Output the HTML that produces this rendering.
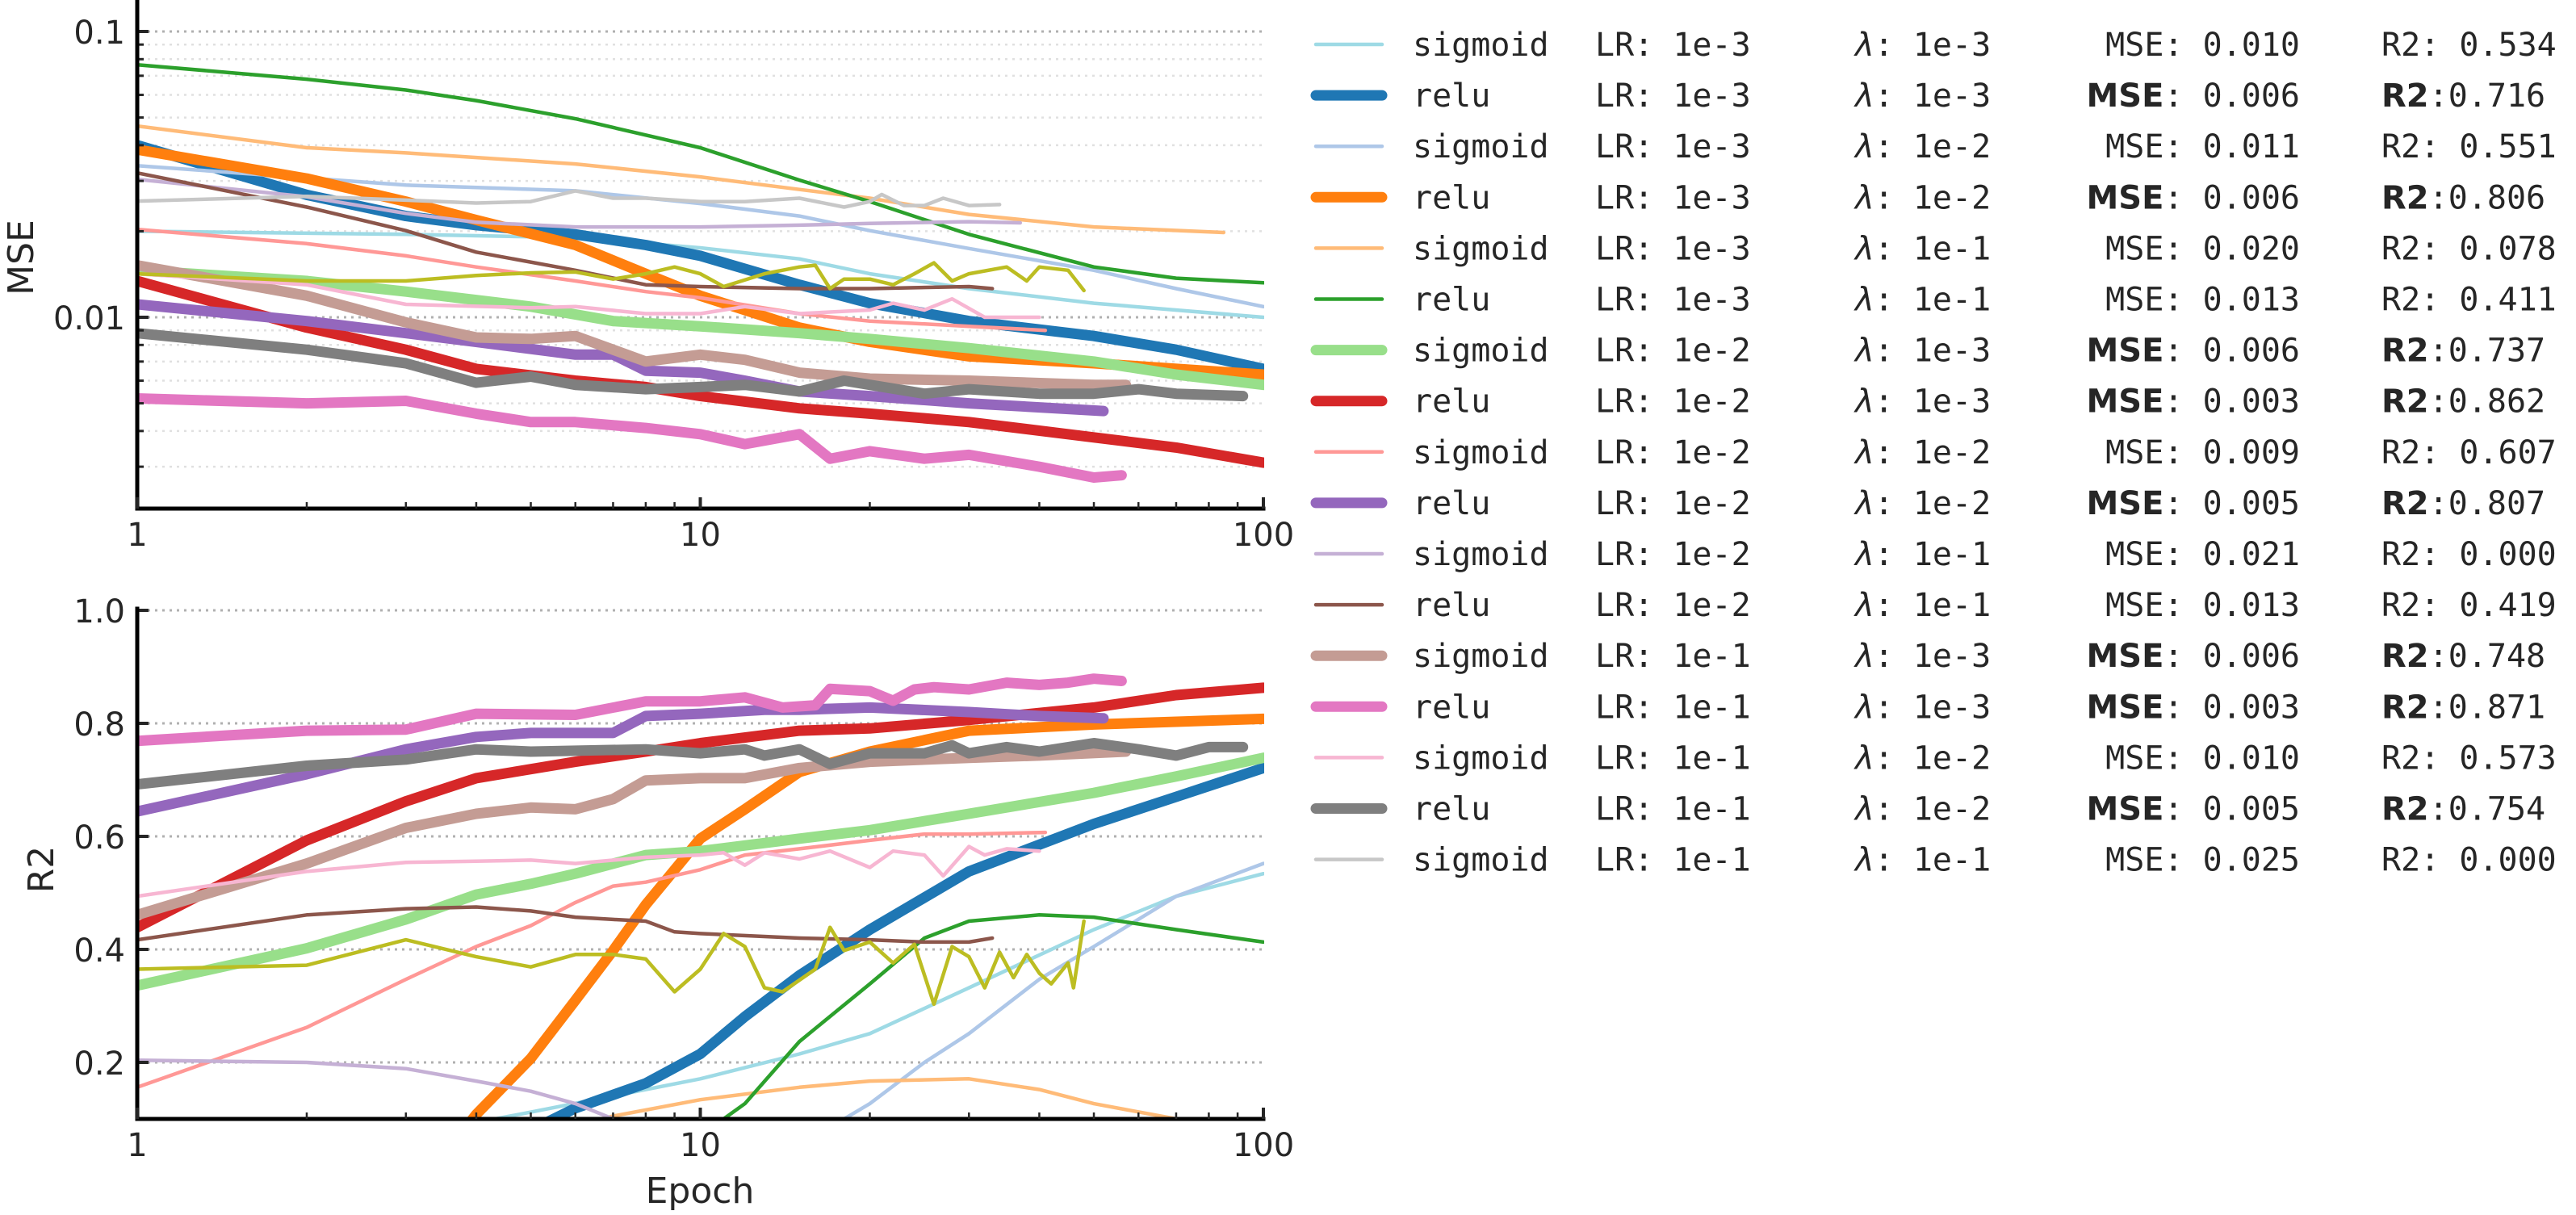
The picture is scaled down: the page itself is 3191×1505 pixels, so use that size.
<!DOCTYPE html>
<html><head><meta charset="utf-8">
<style>
html,body{margin:0;padding:0;background:#fff;width:3191px;height:1505px;overflow:hidden;}
svg{display:block;vertical-align:top;overflow:hidden;}
text{fill:#262626;}
</style></head>
<body>
<svg id="chart" xmlns="http://www.w3.org/2000/svg" width="3191" height="1505" viewBox="0 0 3191 1505">
<defs>
<clipPath id="clipTop"><rect x="170" y="0" width="1396" height="630"/></clipPath>
<clipPath id="clipBot"><rect x="170" y="754" width="1396" height="632"/></clipPath>
</defs>
<g id="gridTop"></g>
<g id="gridBot"></g>
<g id="linesTop" clip-path="url(#clipTop)"></g>
<g id="linesBot" clip-path="url(#clipBot)"></g>
<g id="axes"></g>
<g id="legend"></g>
</svg>
<script>
const names = ['sigmoid','relu','sigmoid','relu','sigmoid','relu','sigmoid','relu','sigmoid','relu','sigmoid','relu','sigmoid','relu','sigmoid','relu','sigmoid','relu'];
const lrs = ['1e-3','1e-3','1e-3','1e-3','1e-3','1e-3','1e-2','1e-2','1e-2','1e-2','1e-2','1e-2','1e-1','1e-1','1e-1','1e-1','1e-1','1e-1'];
const lams = ['1e-3','1e-3','1e-2','1e-2','1e-1','1e-1','1e-3','1e-3','1e-2','1e-2','1e-1','1e-1','1e-3','1e-3','1e-2','1e-2','1e-1','1e-1'];
const finalMse = ['0.010','0.006','0.011','0.006','0.020','0.013','0.006','0.003','0.009','0.005','0.021','0.013','0.006','0.003','0.010','0.005','0.025'];
const finalR2 = ['0.534','0.716','0.551','0.806','0.078','0.411','0.737','0.862','0.607','0.807','0.000','0.419','0.748','0.871','0.573','0.754','0.000'];
const best = [false,true,false,true,false,false,true,true,false,true,false,false,true,true,false,true,false,false];
const colors = ['#9edae5','#1f77b4','#aec7e8','#ff7f0e','#ffbb78','#2ca02c','#98df8a','#d62728','#ff9896','#9467bd','#c5b0d5','#8c564b','#c49c94','#e377c2','#f7b6d2','#7f7f7f','#c7c7c7','#bcbd22'];

const mseEp0=[1,3,6,10,15,20,30,50,100];
const mse0=[0.0200,0.0195,0.0190,0.0175,0.0160,0.0142,0.0126,0.0112,0.0100];
const r2Ep0=[1,2,3,5,10,15,20,30,50,70,100];
const r20=[0.0,0.03,0.07,0.112,0.171,0.215,0.251,0.332,0.435,0.494,0.534];

const mseEp1=[1,2,3,4,6,8,10,15,20,30,50,70,100];
const mse1=[0.040,0.0268,0.0226,0.021,0.0195,0.0179,0.0164,0.0130,0.0112,0.0097,0.0086,0.0077,0.0066];
const r2Ep1=[1,3,4,5,6,8,10,12,15,20,30,50,70,100];
const r21=[-0.3,-0.05,0.03,0.08,0.119,0.163,0.215,0.281,0.354,0.435,0.538,0.622,0.670,0.721];

const mseEp2=[1,3,6,10,15,20,30,50,70,100];
const mse2=[0.0339,0.029,0.0277,0.025,0.0226,0.0201,0.0174,0.0146,0.0126,0.0109];
const r2Ep2=[1,10,15,18,20,25,30,40,50,70,100];
const r22=[-0.5,-0.1,0.05,0.10,0.127,0.2,0.251,0.347,0.405,0.494,0.552];

const mseEp3=[1,2,3,4,6,8,10,15,20,30,50,100];
const mse3=[0.0386,0.0306,0.0254,0.0219,0.0179,0.0142,0.0119,0.0092,0.0082,0.0073,0.0069,0.0063];
const r2Ep3=[1,2,3,4,5,6,7,8,10,12,15,20,30,50,100];
const r23=[-0.6,-0.3,-0.05,0.108,0.207,0.310,0.398,0.479,0.596,0.648,0.714,0.750,0.787,0.798,0.808];

const mseEp4=[1,2,3,6,10,15,20,30,50,85];
const mse4=[0.0467,0.0392,0.0376,0.0344,0.031,0.028,0.0261,0.0229,0.0207,0.0198];
const r2Ep4=[1,3,5,7,10,15,20,30,40,50,70,85];
const r24=[-0.2,0.0,0.07,0.105,0.134,0.156,0.167,0.171,0.152,0.127,0.10,0.068];

const mseEp5=[1,2,3,4,6,8,10,15,20,30,50,70,100];
const mse5=[0.0765,0.0681,0.0624,0.0573,0.0495,0.0434,0.0392,0.0302,0.0254,0.0195,0.0150,0.0137,0.0132];
const r2Ep5=[1,5,10,11,12,15,20,25,30,40,50,70,100];
const r25=[-1.0,-0.4,0.05,0.10,0.127,0.237,0.339,0.42,0.45,0.461,0.457,0.435,0.413];

const mseEp6=[1,2,3,5,7,10,15,20,30,50,70,100];
const mse6=[0.0146,0.0134,0.0123,0.0109,0.0097,0.0093,0.0088,0.0084,0.0078,0.0070,0.0063,0.0058];
const r2Ep6=[1,2,3,4,5,6,8,10,15,20,30,50,70,100];
const r26=[0.336,0.402,0.453,0.497,0.516,0.534,0.567,0.574,0.596,0.611,0.640,0.677,0.706,0.739];

const mseEp7=[1,2,3,4,6,8,10,15,20,30,50,70,100];
const mse7=[0.0134,0.0092,0.0077,0.0066,0.0060,0.0057,0.0053,0.0048,0.0046,0.0043,0.0038,0.0035,0.0031];
const r2Ep7=[1,2,3,4,6,8,10,15,20,30,50,70,100];
const r27=[0.439,0.593,0.662,0.703,0.732,0.750,0.765,0.787,0.791,0.806,0.828,0.850,0.863];

const mseEp8=[1,2,3,4,6,8,10,15,20,30,41];
const mse8=[0.0203,0.0181,0.0164,0.0150,0.0134,0.0123,0.0117,0.0103,0.0097,0.0093,0.0090];
const r2Ep8=[1,2,3,4,5,6,7,8,10,12,15,20,25,30,41];
const r28=[0.156,0.262,0.347,0.405,0.442,0.483,0.512,0.519,0.541,0.567,0.578,0.593,0.604,0.604,0.607];

const mseEp9=[1,2,3,4,6,7,8,10,12,15,20,30,52];
const mse9=[0.0111,0.0097,0.0088,0.0082,0.0074,0.0074,0.0065,0.0064,0.0060,0.0055,0.0053,0.0050,0.0047];
const r2Ep9=[1,2,3,4,5,7,8,10,13,15,20,30,40,52];
const r29=[0.644,0.710,0.754,0.776,0.783,0.783,0.813,0.817,0.824,0.824,0.828,0.820,0.813,0.809];

const mseEp10=[1,2,3,4,6,10,15,20,30,37];
const mse10=[0.0304,0.0264,0.0231,0.0215,0.0207,0.0207,0.0210,0.0213,0.0216,0.0214];
const r2Ep10=[1,2,3,4,5,6,7,10,20,37];
const r210=[0.204,0.2,0.189,0.167,0.149,0.127,0.10,0.05,0.02,0.0];

const mseEp11=[1,2,3,4,6,8,10,15,20,30,33];
const mse11=[0.0320,0.0243,0.0201,0.0169,0.0146,0.0130,0.0128,0.0126,0.0126,0.0128,0.0126];
const r2Ep11=[1,2,3,4,5,6,7,8,9,10,15,20,25,30,33];
const r211=[0.417,0.461,0.472,0.475,0.468,0.457,0.453,0.450,0.431,0.428,0.420,0.417,0.413,0.413,0.42];

const mseEp12=[1,2,3,4,5,6,8,10,12,15,20,30,50,57];
const mse12=[0.0152,0.0119,0.0096,0.0085,0.0084,0.0086,0.0070,0.0074,0.0071,0.0064,0.0061,0.0060,0.0058,0.0058];
const r2Ep12=[1,2,3,4,5,6,7,8,10,12,15,20,30,40,57];
const r212=[0.461,0.552,0.615,0.640,0.651,0.648,0.666,0.699,0.703,0.703,0.721,0.732,0.739,0.743,0.750];

const mseEp13=[1,2,3,4,5,6,8,10,12,15,17,20,25,30,40,50,56];
const mse13=[0.0052,0.0050,0.0051,0.0046,0.0043,0.0043,0.0041,0.0039,0.0036,0.0039,0.0032,0.0034,0.0032,0.0033,0.0030,0.00275,0.0028];
const r2Ep13=[1,2,3,4,6,8,10,12,14,16,17,20,22,24,26,30,35,40,45,50,56];
const r213=[0.769,0.787,0.789,0.817,0.815,0.839,0.839,0.846,0.828,0.832,0.861,0.857,0.840,0.860,0.864,0.860,0.872,0.868,0.872,0.879,0.875];

const mseEp14=[1,2,3,5,6,8,10,12,15,20,22,25,28,32,40];
const mse14=[0.0142,0.0130,0.0111,0.0108,0.0109,0.0103,0.0103,0.0109,0.0103,0.0106,0.0112,0.0106,0.0116,0.0100,0.0100];
const r2Ep14=[1,2,3,4,5,6,8,10,11,12,13,15,17,20,22,25,27,30,32,35,40];
const r214=[0.494,0.538,0.554,0.556,0.558,0.552,0.563,0.567,0.571,0.549,0.571,0.560,0.574,0.545,0.574,0.567,0.530,0.582,0.567,0.578,0.574];

const mseEp15=[1,2,3,4,5,6,8,10,12,15,18,20,25,30,40,50,60,70,92];
const mse15=[0.0088,0.0077,0.0069,0.0059,0.0062,0.0058,0.0056,0.0057,0.0058,0.0055,0.0060,0.0058,0.0054,0.0056,0.0054,0.0054,0.0056,0.0054,0.0053];
const r2Ep15=[1,2,3,4,5,8,10,12,13,15,17,20,25,28,30,35,40,50,60,70,80,92];
const r215=[0.692,0.725,0.736,0.754,0.750,0.754,0.747,0.754,0.743,0.754,0.728,0.747,0.747,0.761,0.747,0.758,0.750,0.765,0.754,0.743,0.758,0.758];

const mseEp16=[1,2,3,4,5,6,7,8,10,12,15,18,20,21,23,25,27,30,34];
const mse16=[0.0255,0.0265,0.0257,0.0251,0.0254,0.0277,0.0261,0.0261,0.0254,0.0254,0.0261,0.0243,0.0254,0.0269,0.0246,0.0246,0.0261,0.0246,0.0248];
const r2Ep16=[1,34];
const r216=[-0.3,-0.2];

const mseEp17=[1,2,3,4,5,6,7,8,9,10,11,13,15,16,17,18,20,22,24,26,28,30,35,38,40,45,48];
const mse17=[0.0142,0.0134,0.0134,0.0140,0.0143,0.0144,0.0136,0.0142,0.0150,0.0142,0.0128,0.0142,0.0150,0.0152,0.0126,0.0136,0.0136,0.0130,0.0142,0.0155,0.0134,0.0142,0.0150,0.0134,0.0150,0.0146,0.0124];
const r2Ep17=[1,2,3,4,5,6,7,8,9,10,11,12,13,14,16,17,18,20,22,24,26,28,30,32,34,36,38,40,42,45,46,48];
const r217=[0.365,0.372,0.417,0.387,0.369,0.391,0.391,0.383,0.325,0.365,0.428,0.405,0.332,0.325,0.365,0.439,0.398,0.413,0.376,0.409,0.303,0.405,0.387,0.332,0.395,0.350,0.391,0.358,0.339,0.376,0.332,0.45];

const xTicks=[1,10,100];
const xTickLabels=['1','10','100'];
const mseTicks=[0.01,0.1];
const mseTickLabels=['0.01','0.1'];
const r2Ticks=[0.2,0.4,0.6,0.8,1.0];
const r2TickLabels=['0.2','0.4','0.6','0.8','1.0'];

const mseEps=[mseEp0,mseEp1,mseEp2,mseEp3,mseEp4,mseEp5,mseEp6,mseEp7,mseEp8,mseEp9,mseEp10,mseEp11,mseEp12,mseEp13,mseEp14,mseEp15,mseEp16,mseEp17];
const mseVals=[mse0,mse1,mse2,mse3,mse4,mse5,mse6,mse7,mse8,mse9,mse10,mse11,mse12,mse13,mse14,mse15,mse16,mse17];
const r2Eps=[r2Ep0,r2Ep1,r2Ep2,r2Ep3,r2Ep4,r2Ep5,r2Ep6,r2Ep7,r2Ep8,r2Ep9,r2Ep10,r2Ep11,r2Ep12,r2Ep13,r2Ep14,r2Ep15,r2Ep16,r2Ep17];
const r2Vals=[r20,r21,r22,r23,r24,r25,r26,r27,r28,r29,r210,r211,r212,r213,r214,r215,r216,r217];

const NS='http://www.w3.org/2000/svg';
const X0=170, X1=1565;
function xS(e){return X0+(X1-X0)/2*Math.log10(e);}
function yTop(v){return 393-354*Math.log10(v/0.01);}
function yBot(v){return 756+(1-v)*700;}
function mk(tag,attrs,parent){const el=document.createElementNS(NS,tag);for(const k in attrs)el.setAttribute(k,attrs[k]);parent.appendChild(el);return el;}

const gridTop=document.getElementById('gridTop'), gridBot=document.getElementById('gridBot');
const axes=document.getElementById('axes');
for(let d=0.001;d<0.2;d*=10){for(let m=1;m<10;m++){const v=d*m;const y=yTop(v);if(y<5||y>625)continue;
 const major=(m===1);
 const g=mk('line',{x1:X0+4,x2:X1,y1:y,y2:y,stroke:major?'#b0b0b0':'#e0e0e0','stroke-width':major?3:2.5,'stroke-dasharray':'3,6'},gridTop);
 
 
 const t=mk('line',{x1:X0,x2:X0+(major?14:8),y1:y,y2:y,stroke:'#262626','stroke-width':major?4:3},axes);
 
 
}}
r2Ticks.forEach(v=>{const y=yBot(v);
 const g=mk('line',{x1:X0+4,x2:X1,y1:y,y2:y,stroke:'#b0b0b0','stroke-width':3,'stroke-dasharray':'3,6'},gridBot);
 
 
 const t=mk('line',{x1:X0,x2:X0+14,y1:y,y2:y,stroke:'#262626','stroke-width':4},axes);
 
 
});

// clip a polyline to a vertical band [yMin,yMax], returns SVG path d
function clipPath(pts,yMin,yMax){
 let d='';let penDown=false;
 for(let k=0;k<pts.length-1;k++){
  let [x1,y1]=pts[k],[x2,y2]=pts[k+1];
  let t0=0,t1=1;const dy=y2-y1;
  if(dy===0){if(y1<yMin||y1>yMax){penDown=false;continue;}}
  else{
   let ta=(yMin-y1)/dy,tb=(yMax-y1)/dy;if(ta>tb){const tmp=ta;ta=tb;tb=tmp;}
   t0=Math.max(0,ta);t1=Math.min(1,tb);if(t0>t1){penDown=false;continue;}
  }
  const ax=x1+(x2-x1)*t0,ay=y1+dy*t0,bx=x1+(x2-x1)*t1,by=y1+dy*t1;
  if(!penDown||t0>0){d+='M'+ax.toFixed(1)+','+ay.toFixed(1);}
  d+='L'+bx.toFixed(1)+','+by.toFixed(1);
  penDown=(t1===1);
 }
 return d;
}
function drawSeries(parent,eps,vals,xf,yf,i,prefix,yMin,yMax){
 const pts=eps.map((e,k)=>[xf(e),yf(vals[k])]);
 const d=clipPath(pts,yMin,yMax);
 if(!d)return;
 const pl=mk('path',{d:d,fill:'none',stroke:colors[i],'stroke-width':best[i]?13:4.5,'stroke-linejoin':'round','stroke-linecap':'round'},parent);
 
 
}
const linesTop=document.getElementById('linesTop'), linesBot=document.getElementById('linesBot');
for(let i=0;i<colors.length;i++){drawSeries(linesTop,mseEps[i],mseVals[i],xS,yTop,i,'mse',0,640);}
for(let i=0;i<colors.length;i++){drawSeries(linesBot,r2Eps[i],r2Vals[i],xS,yBot,i,'r2',750,1395);}

function spine(x1,y1,x2,y2,name){const s=mk('line',{x1:x1,y1:y1,x2:x2,y2:y2,stroke:'#000','stroke-width':5,'stroke-linecap':'square'},axes);
 
 }
spine(X0,0,X0,630,'mse-y-axis');spine(X0,630,X1,630,'mse-x-axis');
spine(X0,754,X0,1386,'r2-y-axis');spine(X0,1386,X1,1386,'r2-x-axis');

[630,1386].forEach((yb,pi)=>{
 for(let d=1;d<=100;d*=10){for(let m=1;m<10;m++){const e=d*m;if(e>100)break;const major=(m===1);const x=xS(e);
  const t=mk('line',{x1:x,x2:x,y1:yb,y2:yb-(major?14:8),stroke:'#262626','stroke-width':major?4:2.5},axes);
  
  
 }}
 xTicks.forEach((e,k)=>{const t=mk('text',{x:xS(e),y:yb+46,'text-anchor':'middle','font-family':'DejaVu Sans, Liberation Sans, sans-serif','font-size':40},axes);
  t.textContent=xTickLabels[k];
  
  });
});
mseTicks.forEach((v,k)=>{const t=mk('text',{x:155,y:yTop(v)+15,'text-anchor':'end','font-family':'DejaVu Sans, Liberation Sans, sans-serif','font-size':40},axes);
 t.textContent=mseTickLabels[k];
 
 });
r2Ticks.forEach((v,k)=>{const t=mk('text',{x:155,y:yBot(v)+15,'text-anchor':'end','font-family':'DejaVu Sans, Liberation Sans, sans-serif','font-size':40},axes);
 t.textContent=r2TickLabels[k];
 
 });
let t=mk('text',{x:0,y:0,transform:'translate(41,319) rotate(-90)','text-anchor':'middle','font-family':'DejaVu Sans, Liberation Sans, sans-serif','font-size':44},axes);
t.textContent='MSE';


t=mk('text',{x:0,y:0,transform:'translate(66,1077) rotate(-90)','text-anchor':'middle','font-family':'DejaVu Sans, Liberation Sans, sans-serif','font-size':44},axes);
t.textContent='R2';


t=mk('text',{x:867,y:1490,'text-anchor':'middle','font-family':'DejaVu Sans, Liberation Sans, sans-serif','font-size':44},axes);
t.textContent='Epoch';



const legend=document.getElementById('legend');
const MONO='DejaVu Sans Mono, Liberation Mono, monospace';
const SANS='DejaVu Sans, Liberation Sans, sans-serif';
for(let i=0;i<finalMse.length;i++){
 const y=55+63.1*i, by=y+14;
 const g=mk('g',{},legend);
 
 
 mk('line',{x1:1630,x2:1712,y1:y,y2:y,stroke:colors[i],'stroke-width':best[i]?13:4.5,'stroke-linecap':'round'},g);
 let a=mk('text',{x:1750,y:by,'font-family':MONO,'font-size':40},g);a.textContent=names[i];
 a=mk('text',{x:1976,y:by,'font-family':MONO,'font-size':40},g);a.textContent='LR: '+lrs[i];
 a=mk('text',{x:2298,y:by,'font-family':MONO,'font-size':40},g);
 let s1=mk('tspan',{'font-family':SANS,'font-style':'italic'},a);s1.textContent='λ';
 let s2=mk('tspan',{},a);s2.textContent=': '+lams[i];
 a=mk('text',{x:2849,y:by,'text-anchor':'end','font-family':MONO,'font-size':40},g);
 if(best[i]){let b=mk('tspan',{'font-family':SANS,'font-weight':'bold'},a);b.textContent='MSE';let c=mk('tspan',{},a);c.textContent=': '+finalMse[i];}
 else{a.textContent='MSE: '+finalMse[i];}
 a=mk('text',{x:2950,y:by,'font-family':MONO,'font-size':40},g);
 if(best[i]){let b=mk('tspan',{'font-family':SANS,'font-weight':'bold'},a);b.textContent='R2';let c=mk('tspan',{},a);c.textContent=':'+finalR2[i];}
 else{a.textContent='R2: '+finalR2[i];}
}
</script>
</body></html>
